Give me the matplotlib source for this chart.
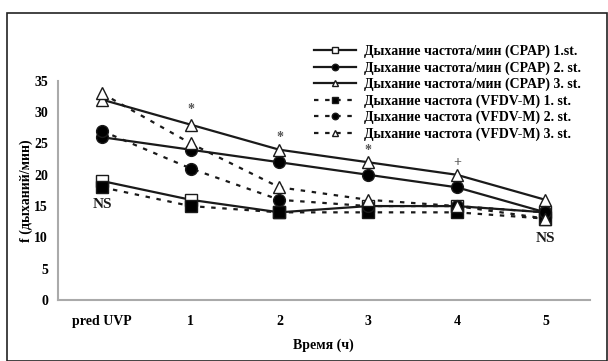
import matplotlib.pyplot as plt
from matplotlib.patches import Rectangle

plt.rcParams['font.family'] = ['Liberation Serif', 'DejaVu Serif']
plt.rcParams['font.weight'] = 'bold'

time_labels = ['pred UVP', '1', '2', '3', '4', '5']
cpap_1 = [19, 16, 14, 15, 15, 14]
cpap_2 = [26, 24, 22, 20, 18, 14]
cpap_3 = [32, 28, 24, 22, 20, 16]
vfdv_1 = [18, 15, 14, 14, 14, 13]
vfdv_2 = [27, 21, 16, 15, 15, 14]
vfdv_3 = [33, 25, 18, 16, 15, 13]
series_names = ['Дыхание частота/мин (CPAP) 1.st.',
                'Дыхание частота/мин (CPAP) 2. st.',
                'Дыхание частота/мин (CPAP) 3. st.',
                'Дыхание частота (VFDV-M) 1. st.',
                'Дыхание частота (VFDV-M) 2. st.',
                'Дыхание частота (VFDV-M) 3. st.']
# significance marks: (x index, y value, text)
marks = [(0, 15.2, 'NS'), (1, 30.5, '*'), (2, 26.0, '*'), (3, 23.8, '*'),
         (4, 22.0, '+'), (5, 9.8, 'NS')]

fig = plt.figure(figsize=(6.08, 3.61), dpi=100)
fig.patches.append(Rectangle((7 / 608, 0), 600 / 608, 1 - 13 / 361, transform=fig.transFigure,
                             fill=False, edgecolor='#222222', linewidth=1.2))
ax = fig.add_axes([0.095, 0.169, 0.875, 0.607])

xs = list(range(len(time_labels)))
dash = (0, (2, 3))
styles = [
    (cpap_1, '-', 's', 'white'),
    (cpap_2, '-', 'o', 'black'),
    (cpap_3, '-', '^', 'white'),
    (vfdv_1, dash, 's', 'black'),
    (vfdv_2, dash, 'o', 'black'),
    (vfdv_3, dash, '^', 'white'),
]
for (ys, ls, mk, fc), name in zip(styles, series_names):
    ax.plot(xs, ys, linestyle=ls, color='#1a1a1a', linewidth=1.6, marker=mk,
            markersize=8.5, markerfacecolor=fc, markeredgecolor='#1a1a1a',
            markeredgewidth=1.0, label=name)

for xi, yv, txt in marks:
    size = 11 if txt == 'NS' else 10
    color = '#1a1a1a' if txt == 'NS' else '#555555'
    ax.text(xi, yv, txt, ha='center', va='center', fontsize=size, color=color, fontweight='bold')

ax.set_xlim(-0.5, 5.5)
ax.set_ylim(0, 35)
ax.set_yticks(range(0, 36, 5))
ax.set_xticks(xs)
ax.set_xticklabels(time_labels)
ax.tick_params(axis='y', length=0, labelsize=10, pad=7)
ax.tick_params(axis='x', length=0, labelsize=10, pad=11)
for side in ['top', 'right']:
    ax.spines[side].set_visible(False)
for side in ['left', 'bottom']:
    ax.spines[side].set_color('#aaaaaa')
    ax.spines[side].set_linewidth(1.5)

ax.set_xlabel('Время (ч)', fontsize=10, fontweight='bold')
ax.xaxis.set_label_coords(0.5, -0.175)
ax.set_ylabel('f (дыханий/мин)', fontsize=10, fontweight='bold')
ax.yaxis.set_label_coords(-0.047, 0.5)

leg = fig.legend(loc='upper left', bbox_to_anchor=(0.505, 0.895), frameon=False, fontsize=10,
                 handlelength=3.0, labelspacing=0.22, borderpad=0, handletextpad=0.6,
                 markerscale=0.55)

fig.savefig('out.png', dpi=100)
